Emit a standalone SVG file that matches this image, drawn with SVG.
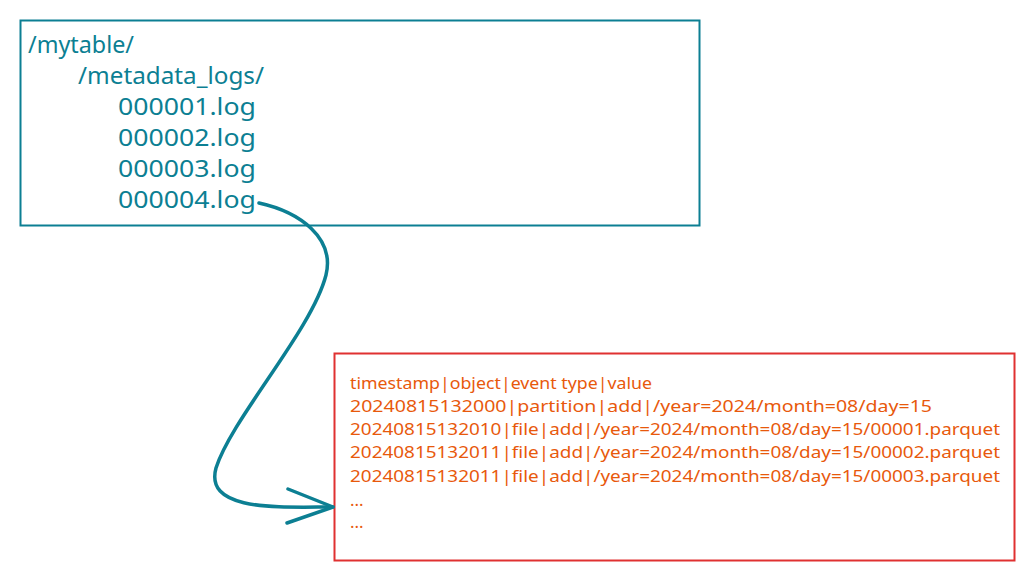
<svg xmlns="http://www.w3.org/2000/svg" width="1034" height="581" viewBox="0 0 1034 581">
<style>
.t1{font-family:"Noto Sans","Liberation Sans",sans-serif;font-size:23px;fill:#0c7f93}
.t2{font-family:"Noto Sans","Liberation Sans",sans-serif;font-size:17px;fill:#e8590c}
.conn{fill:none;stroke:#0c7f93;stroke-width:3.5;stroke-linecap:round;stroke-linejoin:round}
</style>
<rect width="1034" height="581" fill="#ffffff"/>
<g id="folder">
<rect x="20.5" y="20.5" width="679" height="205" fill="none" stroke="#0c7f93" stroke-width="2"/>
<text class="t1" x="28" y="53" textLength="106" lengthAdjust="spacingAndGlyphs">/mytable/</text>
<text class="t1" x="78" y="84" textLength="186" lengthAdjust="spacingAndGlyphs">/metadata_logs/</text>
<text class="t1" x="118" y="115" textLength="138" lengthAdjust="spacingAndGlyphs">000001.log</text>
<text class="t1" x="118" y="146" textLength="138" lengthAdjust="spacingAndGlyphs">000002.log</text>
<text class="t1" x="118" y="177" textLength="138" lengthAdjust="spacingAndGlyphs">000003.log</text>
<text class="t1" x="118" y="208" textLength="138" lengthAdjust="spacingAndGlyphs">000004.log</text>
</g>
<g id="logfile">
<rect x="334.5" y="353.5" width="680" height="207" fill="none" stroke="#e03131" stroke-width="2"/>
<text class="t2" x="350" y="389" textLength="302" lengthAdjust="spacingAndGlyphs">timestamp|object|event type|value</text>
<text class="t2" x="350" y="412" textLength="582" lengthAdjust="spacingAndGlyphs">20240815132000|partition|add|/year=2024/month=08/day=15</text>
<text class="t2" x="350" y="435" textLength="650" lengthAdjust="spacingAndGlyphs">20240815132010|file|add|/year=2024/month=08/day=15/00001.parquet</text>
<text class="t2" x="350" y="458" textLength="650" lengthAdjust="spacingAndGlyphs">20240815132011|file|add|/year=2024/month=08/day=15/00002.parquet</text>
<text class="t2" x="350" y="482" textLength="650" lengthAdjust="spacingAndGlyphs">20240815132011|file|add|/year=2024/month=08/day=15/00003.parquet</text>
<text class="t2" x="350" y="506">...</text>
<text class="t2" x="350" y="528">...</text>
</g>
<g id="connectors">
<path class="conn" d="M259,203 C300,212 335,238 326,275 C312,330 232,418 216,468 C204,512 280,507 333,507"/>
<path class="conn" d="M288,489 L333,507 L287,523"/>
</g>
</svg>
